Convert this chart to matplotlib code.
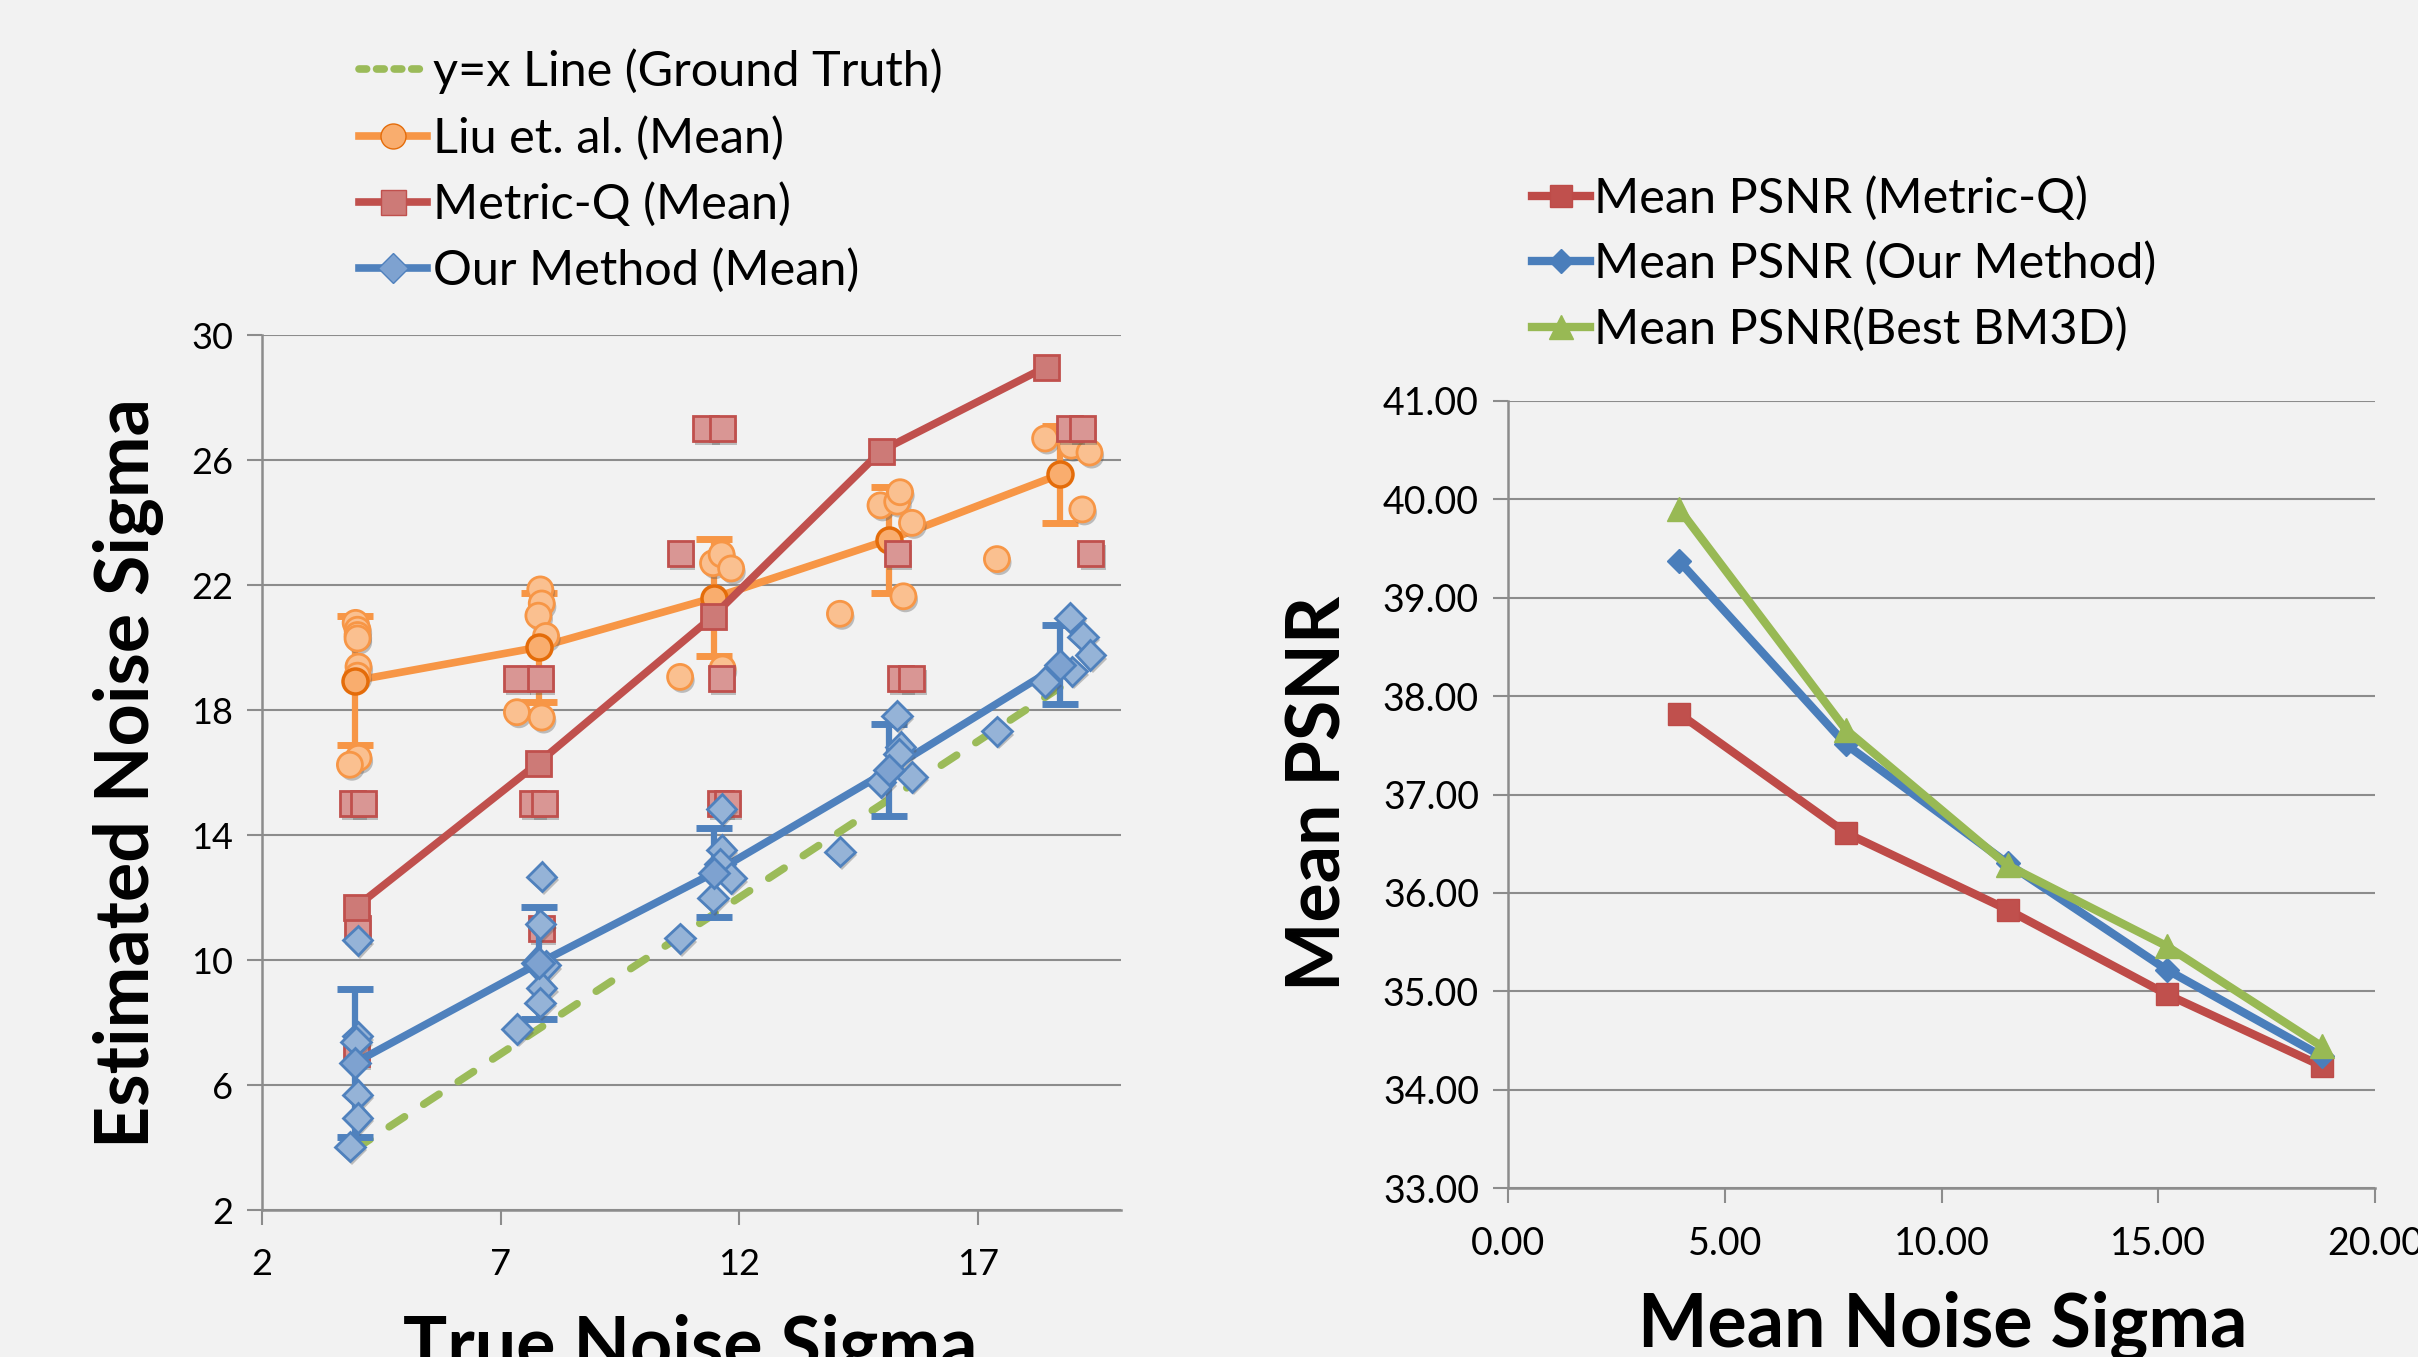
"""Noise sigma estimation vs ground truth, and mean PSNR vs noise sigma."""

import matplotlib

matplotlib.use("Agg")
import matplotlib.pyplot as plt
import matplotlib.patheffects as pe
from matplotlib.lines import Line2D
from matplotlib.ticker import FormatStrFormatter

plt.rcParams["font.family"] = ["Lato", "DejaVu Sans"]

# ---- left chart data ----
mean_x = [3.94, 7.80, 11.48, 15.14, 18.72]
liu_mean = [18.94, 20.01, 21.60, 23.45, 25.54]
liu_err = [2.07, 1.74, 1.86, 1.70, 1.55]
mq_mean_x = [3.97, 7.78, 11.45, 14.98, 18.42]
mq_mean = [11.70, 16.30, 21.00, 26.30, 28.97]
our_mean = [6.71, 9.90, 12.80, 16.08, 19.45]
our_err = [2.37, 1.79, 1.42, 1.46, 1.27]

liu_x = [3.96, 4.00, 4.00, 4.00, 4.02, 4.00, 4.02, 3.84,
         7.83, 7.86, 7.79, 7.95, 7.34, 7.86,
         11.45, 11.63, 11.83, 10.76, 11.65,
         14.96, 15.31, 15.37, 15.62, 15.44, 14.11, 17.40,
         18.41, 18.96, 19.34, 19.19]
liu_y = [20.79, 20.57, 20.40, 20.29, 19.39, 19.10, 16.47, 16.25,
         21.86, 21.41, 21.02, 20.37, 17.93, 17.76,
         22.70, 22.98, 22.53, 19.06, 19.33,
         24.55, 24.67, 24.97, 23.99, 21.64, 21.08, 22.83,
         26.69, 26.46, 26.24, 24.42]

mq_x = [3.90, 4.13, 3.99, 3.97,
        7.34, 7.83, 7.66, 7.91, 7.86,
        11.29, 11.65, 10.76, 11.63, 11.60, 11.75,
        15.31, 15.38, 15.62,
        18.93, 19.20, 19.37]
mq_y = [15, 15, 11, 7,
        19, 19, 15, 15, 11,
        27, 27, 23, 19, 15, 15,
        23, 19, 19,
        27, 27, 23]

our_x = [4.00, 4.00, 3.97, 4.00, 4.00, 3.84,
         7.86, 7.83, 7.94, 7.75, 7.86, 7.82, 7.34,
         11.63, 11.63, 11.60, 11.83, 11.45, 10.76, 14.11,
         15.31, 15.38, 15.35, 14.96, 15.62, 17.40,
         18.93, 19.20, 19.36, 18.98, 18.41]
our_y = [10.63, 7.56, 7.39, 5.69, 4.95, 4.03,
         12.67, 11.14, 9.83, 9.90, 9.10, 8.64, 7.79,
         14.84, 13.53, 13.08, 12.62, 12.00, 10.69, 13.47,
         17.82, 16.81, 16.59, 15.69, 15.86, 17.32,
         20.96, 20.35, 19.76, 19.24, 18.89]

# ---- right chart data ----
psnr_x = [3.95, 7.79, 11.52, 15.19, 18.77]
psnr_mq = [37.82, 36.61, 35.83, 34.97, 34.24]
psnr_our = [39.37, 37.51, 36.30, 35.22, 34.34]
psnr_bm3d = [39.90, 37.66, 36.28, 35.46, 34.44]

BG = "#f2f2f2"
GRID = "#8c8c8c"
ORANGE, ORANGE_F, ORANGE_D = "#f79646", "#fac090", "#e46c0a"
RED, RED_F = "#c0504d", "#d99694"
BLUE, BLUE_F = "#4f81bd", "#95b3d7"
GREEN = "#9bbb59"
LW = 5.5

shadow = [pe.SimplePatchShadow(offset=(1.5, -2.5), shadow_rgbFace="#555555", alpha=0.35),
          pe.Normal()]


def style_axes(ax):
    ax.set_facecolor(BG)
    for s in ("top", "right"):
        ax.spines[s].set_visible(False)
    for s in ("left", "bottom"):
        ax.spines[s].set_color(GRID)
        ax.spines[s].set_linewidth(1.8)
    ax.grid(axis="y", color=GRID, lw=1.5)
    ax.set_axisbelow(True)
    ax.tick_params(length=11, width=1.5, color=GRID, labelsize=26, pad=10)
    ax.tick_params(axis="x", pad=16)


fig = plt.figure(figsize=(24.18, 13.57), dpi=100, facecolor=BG)

# ---------- left ----------
ax = fig.add_axes([0.1084, 0.1083, 0.3552, 0.6448])
style_axes(ax)

ax.plot(mean_x, mean_x, color=GREEN, lw=LW, dashes=(2.4, 3.0),
        dash_capstyle="round", zorder=2)

ax.errorbar(mean_x, liu_mean, yerr=liu_err, fmt="none", ecolor=ORANGE,
            elinewidth=4.5, capsize=13, capthick=5, zorder=3)
ax.plot(mean_x, liu_mean, color=ORANGE, lw=LW, zorder=3)
ax.plot(liu_x, liu_y, ls="none", marker="o", ms=18, mfc=ORANGE_F, mec=ORANGE,
        mew=2, zorder=4, path_effects=shadow)
ax.plot(mean_x, liu_mean, ls="none", marker="o", ms=18, mfc="#f9ad6e", mec=ORANGE_D,
        mew=2.5, zorder=4)

ax.plot(mq_mean_x, mq_mean, color=RED, lw=LW, zorder=5)
ax.plot(mq_x, mq_y, ls="none", marker="s", ms=18, mfc=RED_F, mec=RED,
        mew=2, zorder=6, path_effects=shadow)
ax.plot(mq_mean_x, mq_mean, ls="none", marker="s", ms=18, mfc="#cd7a77", mec=RED,
        mew=2, zorder=6)

ax.errorbar(mean_x, our_mean, yerr=our_err, fmt="none", ecolor=BLUE,
            elinewidth=4.5, capsize=13, capthick=5, zorder=7)
ax.plot(mean_x, our_mean, color=BLUE, lw=LW, zorder=7)
ax.plot(our_x, our_y, ls="none", marker="D", ms=15, mfc=BLUE_F, mec=BLUE,
        mew=2, zorder=8, path_effects=shadow)
ax.plot(mean_x, our_mean, ls="none", marker="D", ms=15, mfc="#7ea2d0", mec=BLUE,
        mew=2, zorder=8)

ax.set_xlim(2, 20)
ax.set_ylim(2, 30)
ax.set_xticks([2, 7, 12, 17])
ax.set_yticks(range(2, 31, 4))

fig.text(0.2855, 0.032, "True Noise Sigma", fontsize=53, fontweight="bold",
         ha="center", va="top")
fig.text(0.053, 0.43, "Estimated Noise Sigma", fontsize=53, fontweight="bold",
         rotation=90, ha="center", va="center")

left_handles = [
    Line2D([], [], color=GREEN, lw=LW, dashes=(1.0, 1.3), dash_capstyle="round"),
    Line2D([], [], color=ORANGE, lw=LW, marker="o", ms=18, mfc="#f9ad6e", mec=ORANGE_D),
    Line2D([], [], color=RED, lw=LW, marker="s", ms=18, mfc="#cd7a77", mec=RED),
    Line2D([], [], color=BLUE, lw=LW, marker="D", ms=15, mfc="#7ea2d0", mec=BLUE),
]
left_labels = ["y=x Line (Ground Truth)", "Liu et. al. (Mean)",
               "Metric-Q (Mean)", "Our Method (Mean)"]
fig.legend(left_handles, left_labels, loc="upper left",
           bbox_to_anchor=(0.1385, 0.982), frameon=False, fontsize=35,
           handlelength=1.4, handletextpad=0.12, labelspacing=0.44, borderpad=0)

# ---------- right ----------
ax2 = fig.add_axes([0.6237, 0.1245, 0.3586, 0.58])
style_axes(ax2)
ax2.tick_params(labelsize=27)

ax2.plot(psnr_x, psnr_mq, color="#be4b48", lw=6, marker="s", ms=16,
         mfc="#c0504d", mec="#be4b48", zorder=3)
ax2.plot(psnr_x, psnr_our, color="#4a7ebb", lw=6, marker="D", ms=12,
         mfc="#4a7ebb", mec="#4a7ebb", zorder=4)
ax2.plot(psnr_x, psnr_bm3d, color="#98b954", lw=6, marker="^", ms=17,
         mfc="#98b954", mec="#98b954", zorder=5)

ax2.set_xlim(0, 20)
ax2.set_ylim(33, 41)
ax2.set_xticks(range(0, 21, 5))
ax2.set_yticks(range(33, 42))
ax2.xaxis.set_major_formatter(FormatStrFormatter("%.2f"))
ax2.yaxis.set_major_formatter(FormatStrFormatter("%.2f"))

fig.text(0.8035, 0.049, "Mean Noise Sigma", fontsize=53, fontweight="bold",
         ha="center", va="top")
fig.text(0.5455, 0.415, "Mean PSNR", fontsize=53, fontweight="bold",
         rotation=90, ha="center", va="center")

right_handles = [
    Line2D([], [], color="#be4b48", lw=6, marker="s", ms=16, mfc="#c0504d", mec="#be4b48"),
    Line2D([], [], color="#4a7ebb", lw=6, marker="D", ms=12, mfc="#4a7ebb", mec="#4a7ebb"),
    Line2D([], [], color="#98b954", lw=6, marker="^", ms=17, mfc="#98b954", mec="#98b954"),
]
right_labels = ["Mean PSNR (Metric-Q)", "Mean PSNR (Our Method)",
                "Mean PSNR(Best BM3D)"]
fig.legend(right_handles, right_labels, loc="upper left",
           bbox_to_anchor=(0.6235, 0.888), frameon=False, fontsize=35,
           handlelength=1.2, handletextpad=0.08, labelspacing=0.42, borderpad=0)

fig.savefig("out.png", dpi=100, facecolor=BG)
